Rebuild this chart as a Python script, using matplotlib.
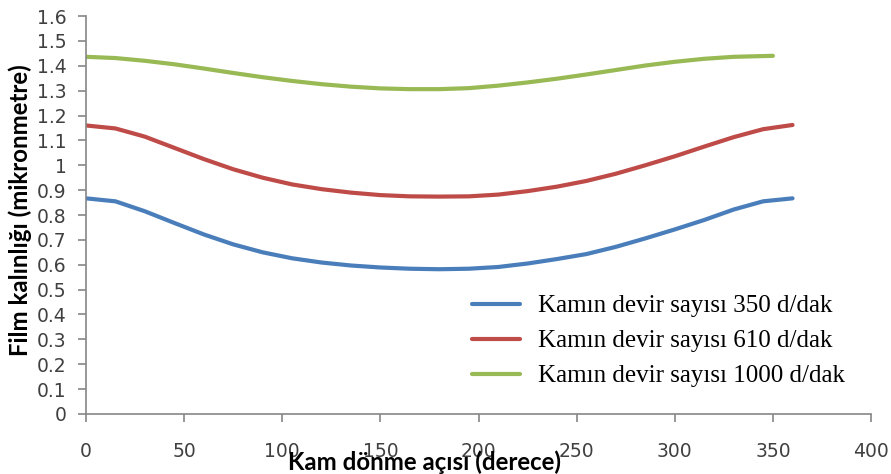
import numpy as np
import matplotlib
matplotlib.use("Agg")
import matplotlib.pyplot as plt

# Kam dönme açısı (derece)
aci = [0, 15, 30, 45, 60, 75, 90, 105, 120, 135, 150, 165, 180,
       195, 210, 225, 240, 255, 270, 285, 300, 315, 330, 345, 360]
aci_1000 = [0, 15, 30, 45, 60, 75, 90, 105, 120, 135, 150, 165, 180,
            195, 210, 225, 240, 255, 270, 285, 300, 315, 330, 345, 350]

# Film kalınlığı (mikronmetre)
film_350 = [0.867, 0.855, 0.815, 0.768, 0.722, 0.682, 0.650, 0.626, 0.609,
            0.597, 0.589, 0.584, 0.582, 0.584, 0.591, 0.605, 0.623, 0.643,
            0.672, 0.706, 0.742, 0.780, 0.822, 0.855, 0.867]
film_610 = [1.160, 1.148, 1.115, 1.070, 1.025, 0.984, 0.950, 0.923, 0.904,
            0.890, 0.880, 0.875, 0.874, 0.875, 0.882, 0.896, 0.914, 0.937,
            0.966, 1.000, 1.036, 1.075, 1.113, 1.145, 1.162]
film_1000 = [1.436, 1.431, 1.420, 1.406, 1.389, 1.371, 1.354, 1.339, 1.326,
             1.316, 1.309, 1.306, 1.306, 1.310, 1.320, 1.333, 1.348, 1.365,
             1.383, 1.401, 1.416, 1.428, 1.436, 1.439, 1.440]

etiketler = ["Kamın devir sayısı 350 d/dak",
             "Kamın devir sayısı 610 d/dak",
             "Kamın devir sayısı 1000 d/dak"]
renkler = ["#4a7ebb", "#be4b48", "#98b954"]

fig = plt.figure(figsize=(8.91, 4.74), dpi=100)
ax = fig.add_axes([0.0965, 0.1266, 0.8811, 0.8396])

ax.plot(aci, film_350, color=renkler[0], lw=3, label=etiketler[0], solid_capstyle="round")
ax.plot(aci, film_610, color=renkler[1], lw=3, label=etiketler[1], solid_capstyle="round")
ax.plot(aci_1000, film_1000, color=renkler[2], lw=3, label=etiketler[2], solid_capstyle="round")

ax.set_xlim(0, 400)
ax.set_ylim(0, 1.6)
ax.set_xticks(np.arange(0, 401, 50))
ax.set_yticks(np.arange(0, 1.61, 0.1))
ax.set_yticklabels(["0" if v == 0 else ("1" if abs(v - 1) < 1e-9 else f"{v:.1f}")
                    for v in np.arange(0, 1.61, 0.1)])

for s in ["top", "right"]:
    ax.spines[s].set_visible(False)
for s in ["left", "bottom"]:
    ax.spines[s].set_color("#868686")
    ax.spines[s].set_linewidth(1.2)
ax.tick_params(axis="both", colors="#868686", labelcolor="#404040",
               labelsize=13.5, length=6, width=1.2)
ax.tick_params(axis="x", pad=14)
ax.tick_params(axis="y", pad=8)

ax.set_xlabel("Kam dönme açısı (derece)", fontsize=17.3, fontweight="bold",
              family="Lato", va="center")
ax.xaxis.set_label_coords(0.431, -0.121)
ax.set_ylabel("Film kalınlığı (mikronmetre)", fontsize=17.3, fontweight="bold",
              family="Lato", va="center")
ax.yaxis.set_label_coords(-0.084, 0.5126)

ax.legend(loc="center left", bbox_to_anchor=(0.492, 0.183), frameon=False,
          prop={"family": "Liberation Serif", "size": 18},
          handlelength=1.92, handletextpad=0.72, labelspacing=0.5,
          borderpad=0, borderaxespad=0)

fig.savefig("out.png", dpi=100)
